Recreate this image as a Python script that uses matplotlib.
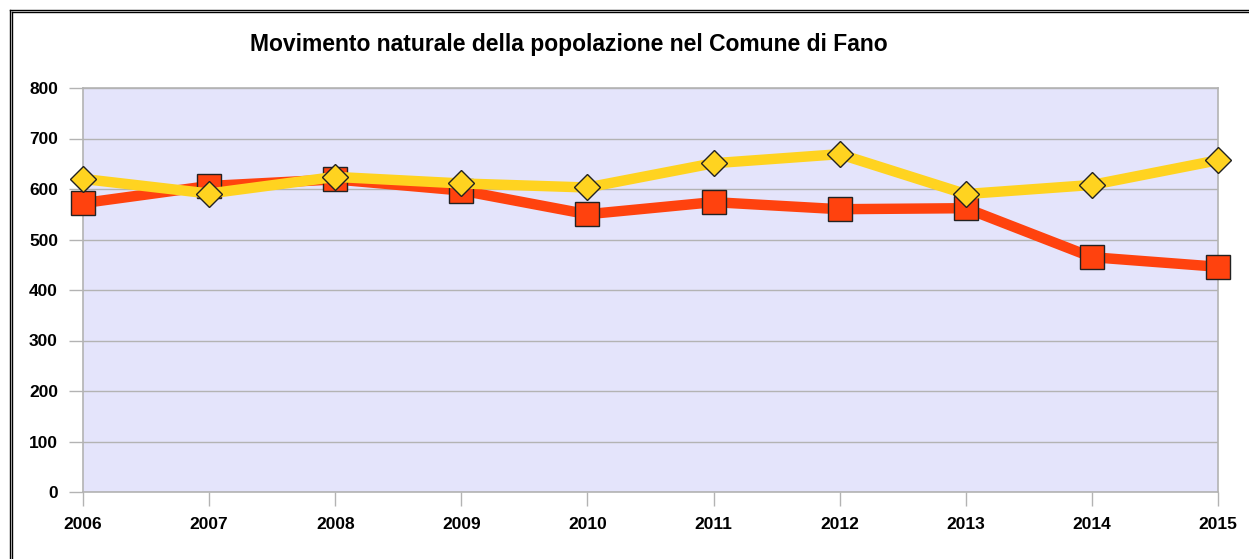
import matplotlib
matplotlib.use("Agg")
import matplotlib.pyplot as plt
from matplotlib.lines import Line2D

years = ["2006", "2007", "2008", "2009", "2010", "2011", "2012", "2013", "2014", "2015"]
morti = [572, 606, 619, 597, 550, 574, 560, 562, 465, 446]
nati = [620, 591, 624, 611, 603, 651, 669, 590, 608, 657]
yticks = [0, 100, 200, 300, 400, 500, 600, 700, 800]
title = "Movimento naturale della popolazione nel Comune di Fano"

plt.rcParams['font.family'] = ['Liberation Sans', 'DejaVu Sans']

W, H = 1249, 559
fig = plt.figure(figsize=(W / 100, H / 100), dpi=100)
ax = fig.add_axes([83 / W, 1 - 492 / H, (1218 - 83) / W, (492 - 88) / H])
ax.set_facecolor('#e4e4fb')

x = list(range(len(years)))
ax.plot(x, morti, color='#ff420e', lw=7.5, marker='s', ms=17,
        mfc='#ff420e', mec='#222222', mew=1.0, zorder=3, solid_capstyle='butt',
        clip_on=False)
ax.plot(x, nati, color='#ffd320', lw=7.5, marker='D', ms=13,
        mfc='#ffd320', mec='#222222', mew=1.0, zorder=4, solid_capstyle='butt',
        clip_on=False)

ax.set_xlim(0, len(years) - 1)
ax.set_ylim(0, 800)
ax.set_yticks(yticks)
ax.set_yticklabels([str(v) for v in yticks], fontsize=12.5, fontweight='bold')
ax.set_xticks(x)
ax.set_xticklabels(years, fontsize=12.5, fontweight='bold')
ax.grid(axis='y', color='#b3b3b3', lw=1.0)
ax.set_axisbelow(True)
for s in ax.spines.values():
    s.set_color('#b3b3b3')
    s.set_linewidth(1.2)
ax.tick_params(axis='both', colors='#b3b3b3', labelcolor='black', length=10, width=1)
ax.tick_params(axis='y', pad=8)
ax.tick_params(axis='x', pad=8)

fig.text(569 / W, 1 - 44 / H, title, ha='center', va='center',
         fontsize=16.5, fontweight='bold')

# outer double frame
for off in (9.5, 12):
    fig.add_artist(Line2D([off / W, 1], [1 - off / H, 1 - off / H], color='black', lw=1.0,
                          transform=fig.transFigure))
    fig.add_artist(Line2D([off / W, off / W], [0, 1 - off / H], color='black', lw=1.0,
                          transform=fig.transFigure))

fig.savefig('out.png', dpi=100)
